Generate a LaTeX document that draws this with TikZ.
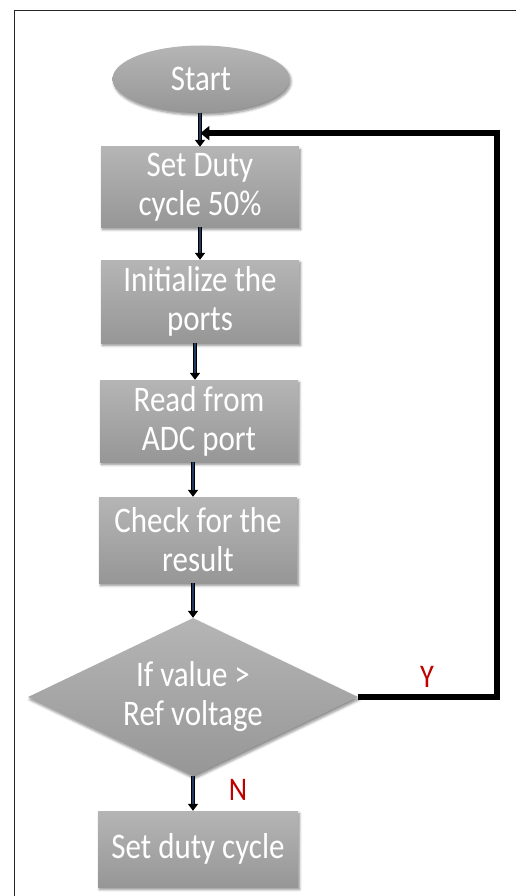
\documentclass[tikz,border=0pt]{standalone}
\usepackage{fontspec}
\setmainfont[FakeStretch=0.86]{Carlito}
\usetikzlibrary{shapes.geometric,arrows.meta,shadows.blur,calc}

\definecolor{shaft}{RGB}{34,58,94}
\definecolor{labelred}{RGB}{192,0,0}

\tikzset{
  softshadow/.style={blur shadow={shadow xshift=1.5pt,shadow yshift=-2.5pt,
      shadow blur steps=6,shadow blur radius=2.5pt,shadow opacity=45}},
  greyfill/.style={top color=black!29,bottom color=black!41,draw=none,
      text=white,font=\fontsize{36}{39}\selectfont,align=center,softshadow},
  stepbox/.style={greyfill,rectangle,minimum width=198pt,inner sep=0pt},
  terminal/.style={greyfill,ellipse,minimum width=177pt,minimum height=67pt,inner sep=0pt},
  decision/.style={greyfill,diamond,minimum width=330pt,minimum height=158pt,
      inner sep=0pt,aspect=2.1},
  flow/.style={draw=shaft,line width=2pt,shorten >=7pt,
      preaction={draw=black,line width=4.4pt,shorten >=0pt,
                 -{Triangle[length=7pt,width=10pt]}}},
  backloop/.style={draw=black,line width=5.5pt,
      -{Triangle[length=9pt,width=14pt]}},
  answer/.style={text=labelred,font=\fontsize{33}{36}\selectfont}
}

\begin{document}
\begin{tikzpicture}[x=1pt,y=-1pt]
  \useasboundingbox (0,0) rectangle (515,896);

  % page frame (only its top and left edges fall inside the picture)
  \draw[line width=1.8pt,black!85] (14.5,905) -- (14.5,10.5) -- (525,10.5);

  % process chain
  \node[terminal] (start) at (201,79) {Start};
  \node[stepbox,minimum height=80pt] (duty50) at (200,187) {Set Duty\\cycle 50\%};
  \node[stepbox,minimum height=83pt] (init) at (200,301.5) {Initialize the\\ports};
  \node[stepbox,minimum height=82pt] (read) at (199,421) {Read from\\ADC port};
  \node[stepbox,minimum height=86pt] (check) at (198,540) {Check for the\\result};
  \node[decision] (test) at (193,697) {If value >\\Ref voltage};
  \node[stepbox,minimum height=76pt,minimum width=200pt] (duty) at (198,849) {Set duty cycle};

  % join point where the loop re-enters above the first step
  \coordinate (join) at ($(start.south)!0.6!(duty50.north)$);

  % downward connectors
  \draw[flow] (start.south -| duty50.north) -- (duty50.north);
  \draw[flow] (duty50.south) -- (init.north);
  \draw[flow] (init.south -| 195,0) -- (read.north -| 195,0);
  \draw[flow] (read.south -| 193,0) -- (check.north -| 193,0);
  \draw[flow] (check.south -| test.north) -- (test.north);
  \draw[flow] (test.south) -- (test.south |- duty.north);

  % loop back when the value exceeds the reference
  \draw[backloop] (test.east) -- ++(139,0) |- (join);

  % branch labels
  \node[answer] (yes) at (427,677) {Y};
  \node[answer] (no) at (238,790) {N};
\end{tikzpicture}
\end{document}
